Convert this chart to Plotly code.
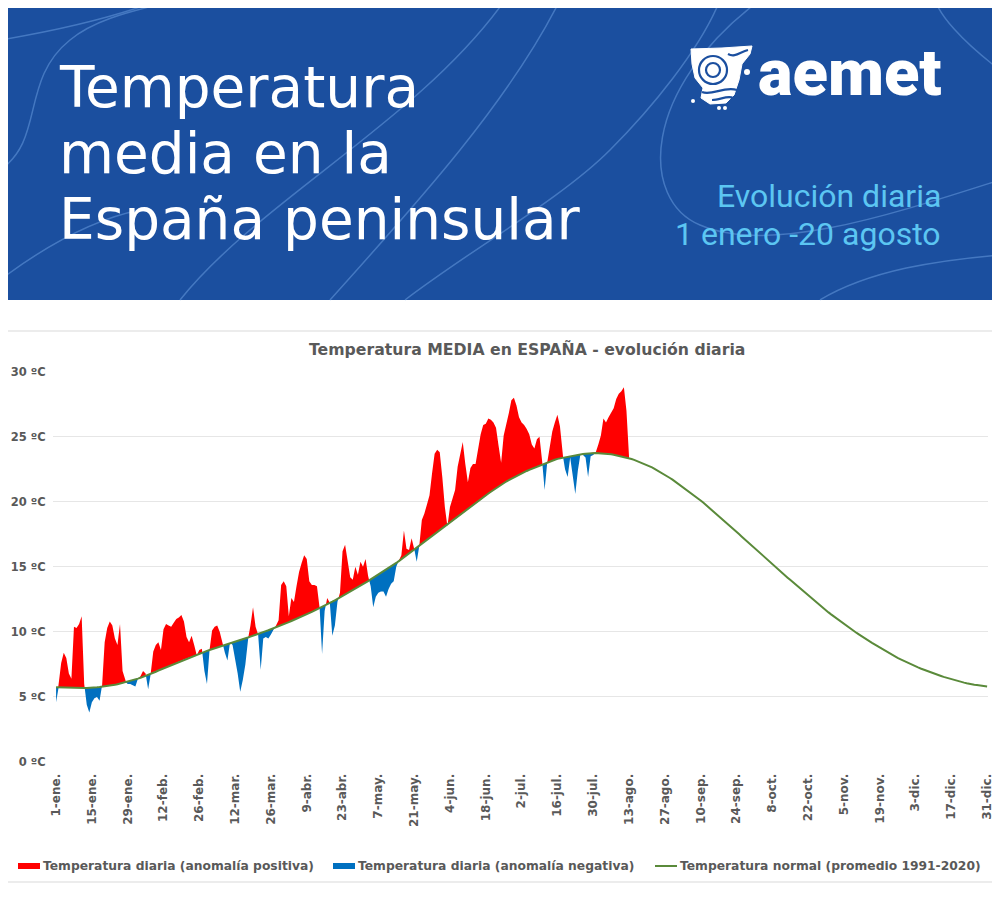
import numpy as np
import plotly.graph_objects as go

# ---- data ----
tick_days = list(range(0, 365, 14))
tick_labels = ["1-ene.", "15-ene.", "29-ene.", "12-feb.", "26-feb.", "12-mar.", "26-mar.",
               "9-abr.", "23-abr.", "7-may.", "21-may.", "4-jun.", "18-jun.", "2-jul.",
               "16-jul.", "30-jul.", "13-ago.", "27-ago.", "10-sep.", "24-sep.", "8-oct.",
               "22-oct.", "5-nov.", "19-nov.", "3-dic.", "17-dic.", "31-dic."]

y_ticks = [0, 5, 10, 15, 20, 25, 30]
y_labels = [f"{v} ºC" for v in y_ticks]

# daily mean temperature, 1 Jan onwards (ºC)
temp_daily = [
    4.6, 6.0, 7.6, 8.4, 8.0, 6.8, 6.4, 10.4, 10.3, 10.6,
    11.2, 6.0, 4.4, 3.8, 4.6, 4.9, 5.0, 4.7, 5.9, 9.2,
    10.3, 10.8, 10.5, 9.5, 9.0, 10.6, 7.0, 6.2, 6.0, 6.0,
    5.9, 5.8, 6.4, 6.6, 7.0, 6.8, 5.6, 6.8, 8.5, 9.0,
    9.2, 8.6, 10.2, 10.6, 10.5, 10.4, 10.7, 11.0, 11.1, 11.3,
    10.8, 9.6, 9.2, 9.7, 9.0, 8.2, 8.6, 8.7, 7.0, 6.0,
    8.6, 10.1, 10.4, 10.5, 10.0, 9.2, 8.4, 7.8, 9.2, 9.0,
    8.0, 6.8, 5.4, 6.3, 7.5, 9.4, 10.5, 11.9, 10.4, 9.8,
    7.1, 9.5, 9.6, 9.5, 9.8, 10.2, 10.5, 10.9, 13.6, 13.9,
    13.5, 11.2, 12.6, 12.3, 13.5, 14.6, 15.3, 15.9, 15.6, 13.9,
    13.6, 13.6, 13.5, 12.0, 8.3, 11.6, 12.6, 12.3, 9.7, 10.5,
    12.3, 13.0, 16.2, 16.7, 15.5, 14.2, 14.0, 15.0, 14.4, 15.4,
    15.0, 15.6, 14.3, 13.5, 11.9, 12.7, 13.0, 13.1, 13.1, 12.7,
    13.3, 13.7, 13.9, 15.0, 15.5, 15.9, 17.8, 16.4, 16.3, 17.2,
    16.4, 15.4, 16.6, 18.6, 19.1, 19.8, 20.5, 22.2, 23.7, 24.0,
    23.8, 21.9, 19.6, 18.1, 19.6, 20.3, 20.9, 22.7, 23.8, 24.6,
    22.9, 21.5, 22.6, 22.9, 22.9, 24.0, 25.2, 25.9, 26.0, 26.4,
    26.3, 26.1, 25.7, 24.3, 23.0, 25.1, 25.9, 26.8, 27.8, 28.0,
    27.4, 26.5, 26.1, 25.9, 25.6, 25.2, 24.4, 24.1, 24.8, 25.0,
    23.2, 20.9, 23.0, 24.2, 25.4, 26.1, 26.7, 25.8, 23.7, 22.5,
    21.9, 23.4, 22.1, 20.6, 22.4, 23.7, 23.6, 23.4, 21.9, 23.5,
    23.6, 23.8, 24.4, 25.1, 26.4, 26.1, 26.5, 26.9, 27.2, 27.9,
    28.3, 28.5, 28.8, 27.0, 23.5,
]

# normal 1991-2020, one value per day of the year (ºC)
temp_normal = [
    5.75, 5.74, 5.74, 5.73, 5.72, 5.71, 5.71,
    5.70, 5.69, 5.69, 5.68, 5.68, 5.69, 5.69,
    5.70, 5.72, 5.74, 5.76, 5.78, 5.80, 5.83,
    5.85, 5.89, 5.93, 5.98, 6.03, 6.08, 6.11,
    6.15, 6.21, 6.27, 6.34, 6.41, 6.47, 6.54,
    6.60, 6.68, 6.77, 6.86, 6.94, 7.03, 7.11,
    7.20, 7.29, 7.37, 7.46, 7.54, 7.63, 7.71,
    7.80, 7.88, 7.96, 8.04, 8.11, 8.19, 8.27,
    8.35, 8.41, 8.48, 8.54, 8.61, 8.67, 8.74,
    8.80, 8.86, 8.93, 8.99, 9.06, 9.12, 9.19,
    9.25, 9.31, 9.38, 9.44, 9.51, 9.57, 9.64,
    9.70, 9.77, 9.84, 9.91, 9.99, 10.06, 10.13,
    10.20, 10.28, 10.36, 10.44, 10.51, 10.59, 10.67,
    10.75, 10.84, 10.92, 11.01, 11.09, 11.18, 11.26,
    11.35, 11.44, 11.54, 11.63, 11.72, 11.81, 11.91,
    12.00, 12.11, 12.21, 12.32, 12.43, 12.54, 12.64,
    12.75, 12.86, 12.98, 13.09, 13.21, 13.32, 13.44,
    13.55, 13.67, 13.79, 13.91, 14.04, 14.16, 14.28,
    14.40, 14.53, 14.66, 14.79, 14.91, 15.04, 15.17,
    15.30, 15.44, 15.59, 15.73, 15.87, 16.01, 16.16,
    16.30, 16.45, 16.60, 16.75, 16.90, 17.05, 17.20,
    17.35, 17.50, 17.65, 17.80, 17.95, 18.10, 18.25,
    18.40, 18.55, 18.70, 18.85, 19.00, 19.15, 19.30,
    19.45, 19.60, 19.75, 19.90, 20.05, 20.20, 20.35,
    20.50, 20.64, 20.77, 20.91, 21.04, 21.18, 21.31,
    21.45, 21.56, 21.66, 21.77, 21.88, 21.99, 22.09,
    22.20, 22.29, 22.37, 22.46, 22.54, 22.63, 22.71,
    22.80, 22.87, 22.94, 23.01, 23.09, 23.16, 23.23,
    23.30, 23.34, 23.39, 23.43, 23.47, 23.51, 23.56,
    23.60, 23.63, 23.66, 23.68, 23.70, 23.72, 23.74,
    23.75, 23.75, 23.74, 23.73, 23.71, 23.69, 23.67,
    23.65, 23.62, 23.58, 23.54, 23.49, 23.44, 23.39,
    23.35, 23.29, 23.22, 23.14, 23.06, 22.98, 22.92,
    22.85, 22.75, 22.64, 22.53, 22.42, 22.31, 22.21,
    22.10, 21.97, 21.83, 21.70, 21.56, 21.42, 21.29,
    21.15, 21.00, 20.85, 20.70, 20.55, 20.40, 20.25,
    20.10, 19.94, 19.77, 19.61, 19.44, 19.28, 19.11,
    18.95, 18.77, 18.59, 18.41, 18.24, 18.06, 17.88,
    17.70, 17.52, 17.34, 17.16, 16.99, 16.81, 16.63,
    16.45, 16.27, 16.09, 15.91, 15.74, 15.56, 15.38,
    15.20, 15.03, 14.86, 14.69, 14.51, 14.34, 14.17,
    14.00, 13.83, 13.66, 13.49, 13.31, 13.14, 12.97,
    12.80, 12.64, 12.47, 12.31, 12.14, 11.98, 11.81,
    11.65, 11.50, 11.35, 11.20, 11.05, 10.90, 10.75,
    10.60, 10.46, 10.33, 10.19, 10.06, 9.92, 9.79,
    9.65, 9.53, 9.41, 9.29, 9.16, 9.04, 8.92,
    8.80, 8.69, 8.57, 8.46, 8.34, 8.23, 8.11,
    8.00, 7.91, 7.81, 7.72, 7.63, 7.54, 7.44,
    7.35, 7.27, 7.19, 7.11, 7.04, 6.96, 6.88,
    6.80, 6.74, 6.67, 6.61, 6.54, 6.48, 6.41,
    6.35, 6.30, 6.25, 6.20, 6.15, 6.10, 6.05,
    6.00, 5.97, 5.94, 5.91, 5.89, 5.86, 5.83,
    5.80,
]

# ---- colours / fonts ----
RED = "#ff0000"
BLUE = "#0070c0"
GREEN = "#5a8a3a"
GREY = "#595959"
BANNER = "#1b4f9f"
CYAN = "#5cc6f2"
CHART_FONT = "DejaVu Sans"

W, H = 1000, 909
OFF = 8  # the page puts the figure 8px in from the corner, so pull everything back


def px(x):
    return (x - OFF) / W


def py(y):
    return 1 - (y - OFF) / H


def svg(cmds):
    out = []
    for letter, pts in cmds:
        out.append(letter + " " + " ".join(f"{px(x):.4f},{py(y):.4f}" for x, y in pts))
    return " ".join(out)


# ---- split daily series into positive / negative anomaly areas ----
t = np.array(temp_daily)
n = np.array(temp_normal[:len(temp_daily)])
xs, ts, ns = [], [], []
for i in range(len(t)):
    if i > 0:
        d0, d1 = t[i - 1] - n[i - 1], t[i] - n[i]
        if d0 * d1 < 0:
            f = d0 / (d0 - d1)
            cross = n[i - 1] + f * (n[i] - n[i - 1])
            xs.append(i - 1 + f)
            ts.append(cross)
            ns.append(cross)
    xs.append(i)
    ts.append(t[i])
    ns.append(n[i])
ts, ns = np.array(ts), np.array(ns)
upper = np.maximum(ts, ns)
lower = np.minimum(ts, ns)

fig = go.Figure()
fig.add_trace(go.Scatter(x=xs, y=ns, mode="lines", line=dict(width=0),
                         hoverinfo="skip", showlegend=False))
fig.add_trace(go.Scatter(x=xs, y=upper, mode="lines", line=dict(width=0),
                         fill="tonexty", fillcolor=RED, showlegend=False,
                         name="Temperatura diaria (anomalía positiva)"))
fig.add_trace(go.Scatter(x=xs, y=ns, mode="lines", line=dict(width=0),
                         hoverinfo="skip", showlegend=False))
fig.add_trace(go.Scatter(x=xs, y=lower, mode="lines", line=dict(width=0),
                         fill="tonexty", fillcolor=BLUE, showlegend=False,
                         name="Temperatura diaria (anomalía negativa)"))
fig.add_trace(go.Scatter(x=list(range(len(temp_normal))), y=temp_normal, mode="lines",
                         line=dict(color=GREEN, width=2), showlegend=False,
                         name="Temperatura normal (promedio 1991-2020)"))

# ---- header banner ----
shapes = [
    dict(type="rect", xref="paper", yref="paper", x0=0, x1=1, y0=py(300), y1=1,
         fillcolor=BANNER, line=dict(width=0), layer="below"),
]
deco = [
    [("M", [(0, 40)]), ("C", [(60, 30), (120, 15), (160, 0)])],
    [("M", [(0, 170)]), ("C", [(45, 140), (20, 80), (70, 40)]), ("C", [(100, 15), (150, 8), (175, 0)])],
    [("M", [(180, 300)]), ("C", [(260, 200), (420, 120), (505, 0)])],
    [("M", [(330, 300)]), ("C", [(420, 200), (510, 100), (560, 0)])],
    [("M", [(405, 300)]), ("C", [(470, 250), (560, 200), (610, 150)]), ("C", [(650, 110), (700, 50), (720, 0)])],
    [("M", [(0, 280)]), ("C", [(40, 250), (90, 220), (140, 210)])],
    [("M", [(760, 0)]), ("C", [(640, 90), (640, 200), (700, 225)]), ("C", [(770, 255), (890, 215), (1000, 180)])],
    [("M", [(1000, 70)]), ("C", [(960, 40), (940, 15), (935, 0)])],
    [("M", [(820, 300)]), ("C", [(870, 270), (940, 260), (1000, 255)])],
]
for d in deco:
    shapes.append(dict(type="path", xref="paper", yref="paper", path=svg(d),
                       line=dict(color="rgba(120,170,235,0.45)", width=1.5), layer="below"))

# logo icon (rough map silhouette with contour lines)
icon = [("M", [(691, 49)]), ("L", [(722, 48)]), ("L", [(752, 46)]), ("L", [(750, 54)]),
        ("L", [(742, 64)]), ("L", [(739, 80)]), ("L", [(734, 95)]), ("L", [(726, 103)]),
        ("L", [(710, 104)]), ("L", [(701, 98)]), ("L", [(703, 88)]), ("L", [(695, 78)]),
        ("L", [(692, 64)])]
shapes.append(dict(type="path", xref="paper", yref="paper", path=svg(icon) + " Z",
                   fillcolor="white", line=dict(color="white", width=1)))
for x0, y0, x1, y1 in [(699, 56, 727, 84), (706, 63, 720, 77)]:
    shapes.append(dict(type="circle", xref="paper", yref="paper", x0=px(x0), x1=px(x1),
                       y0=py(y1), y1=py(y0), line=dict(color=BANNER, width=2.2)))
for d in [[("M", [(702, 92)]), ("C", [(712, 96), (724, 86), (737, 90)])],
          [("M", [(712, 100)]), ("C", [(720, 100), (728, 95), (733, 98)])],
          [("M", [(728, 54)]), ("C", [(735, 58), (740, 52), (748, 50)])]]:
    shapes.append(dict(type="path", xref="paper", yref="paper", path=svg(d),
                       line=dict(color=BANNER, width=2.2)))
for cx, cy, r in [(747, 72, 3), (693, 101, 2), (719, 108, 2), (725, 108, 2)]:
    shapes.append(dict(type="circle", xref="paper", yref="paper", x0=px(cx - r), x1=px(cx + r),
                       y0=py(cy + r), y1=py(cy - r), fillcolor="white", line=dict(width=0)))

# chart frame
shapes.append(dict(type="rect", xref="paper", yref="paper", x0=px(-2), x1=px(996),
                   y0=py(882), y1=py(331), line=dict(color="#d9d9d9", width=1), layer="below"))

# legend swatches
shapes.append(dict(type="rect", xref="paper", yref="paper", x0=px(18), x1=px(40),
                   y0=py(869), y1=py(863), fillcolor=RED, line=dict(width=0)))
shapes.append(dict(type="rect", xref="paper", yref="paper", x0=px(333), x1=px(355),
                   y0=py(869), y1=py(863), fillcolor=BLUE, line=dict(width=0)))
shapes.append(dict(type="line", xref="paper", yref="paper", x0=px(655), x1=px(677),
                   y0=py(866), y1=py(866), line=dict(color=GREEN, width=2)))

title_font = dict(family="DejaVu Sans", size=56.5, color="white")
legend_font = dict(family=CHART_FONT, size=12.3, color=GREY, weight="bold")
annotations = [
    dict(text="Temperatura", x=px(57), y=py(87.5), xanchor="left", yanchor="middle",
         font=title_font),
    dict(text="media en la", x=px(57), y=py(153.5), xanchor="left", yanchor="middle",
         font=title_font),
    dict(text="España peninsular", x=px(57), y=py(219.5), xanchor="left", yanchor="middle",
         font=title_font),
    dict(text="Evolución diaria", x=px(943), y=py(196), xanchor="right", yanchor="middle",
         font=dict(family="Roboto", size=32, color=CYAN)),
    dict(text="1 enero -20 agosto", x=px(943), y=py(234), xanchor="right", yanchor="middle",
         font=dict(family="Roboto", size=32, color=CYAN)),
    dict(text="aemet", x=px(944), y=py(73), xanchor="right", yanchor="middle",
         font=dict(family="Roboto", size=65, color="white", weight=900)),
    dict(text="Temperatura MEDIA en ESPAÑA - evolución diaria", x=px(527), y=py(349),
         xanchor="center", yanchor="middle",
         font=dict(family=CHART_FONT, size=15.7, color=GREY, weight="bold")),
    dict(text="Temperatura diaria (anomalía positiva)", x=px(41), y=py(866),
         xanchor="left", yanchor="middle", font=legend_font),
    dict(text="Temperatura diaria (anomalía negativa)", x=px(356), y=py(866),
         xanchor="left", yanchor="middle", font=legend_font),
    dict(text="Temperatura normal (promedio 1991-2020)", x=px(678), y=py(866),
         xanchor="left", yanchor="middle", font=legend_font),
]
for a in annotations:
    a.update(xref="paper", yref="paper", showarrow=False)

fig.update_layout(
    width=W, height=H,
    margin=dict(l=0, r=0, t=0, b=0, autoexpand=False),
    paper_bgcolor="white", plot_bgcolor="white",
    shapes=shapes, annotations=annotations,
    showlegend=False,
    xaxis=dict(domain=[px(53), px(988)], range=[-1.2, 364.35], automargin=False,
               tickvals=tick_days, ticktext=tick_labels, tickangle=-90,
               ticks="outside", ticklen=6, tickcolor="rgba(0,0,0,0)",
               tickfont=dict(family=CHART_FONT, size=12, color=GREY, weight="bold"),
               showgrid=False, zeroline=False, showline=False),
    yaxis=dict(domain=[py(762), py(371.7)], range=[0, 30], automargin=False,
               tickvals=y_ticks, ticktext=y_labels,
               ticks="outside", ticklen=4, tickcolor="rgba(0,0,0,0)",
               tickfont=dict(family=CHART_FONT, size=11.5, color=GREY, weight="bold"),
               showgrid=True, gridcolor="#e6e6e6", gridwidth=1,
               zeroline=False, showline=False),
)

fig.write_html("out.html")
